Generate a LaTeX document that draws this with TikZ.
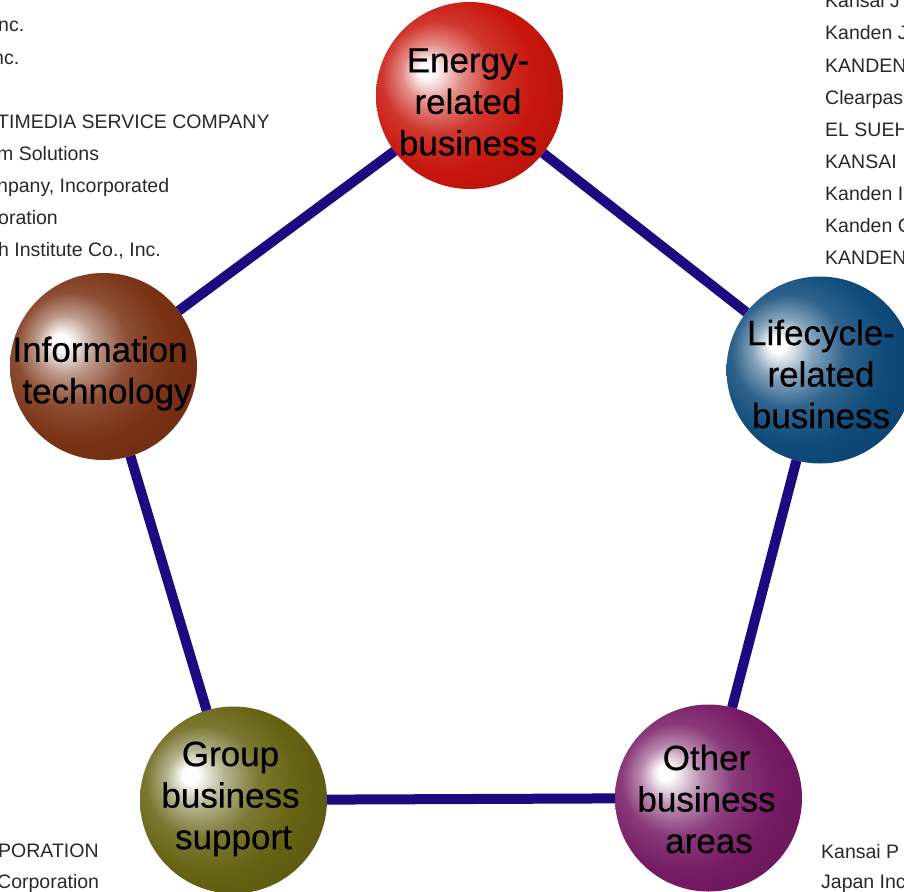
\documentclass[tikz,border=0pt]{standalone}
\usepackage{fontspec}
\setmainfont{Liberation Sans}
\newfontfamily\lblfont[FakeBold=0.5]{Liberation Sans}
\definecolor{cRed}{RGB}{200,22,12}
\definecolor{cBlue}{RGB}{14,74,122}
\definecolor{cBrown}{RGB}{122,50,20}
\definecolor{cOlive}{RGB}{102,98,18}
\definecolor{cPurple}{RGB}{118,26,100}
\definecolor{linkc}{RGB}{27,10,128}
\definecolor{smalltxt}{RGB}{40,40,40}
\newcommand\declball[2]{%
  \pgfdeclareradialshading{#1}{\pgfqpoint{-12bp}{7bp}}{%
    color(0bp)=(white); color(2bp)=(white); color(8bp)=(#2!50!white);
    color(15bp)=(#2!86!white); color(24bp)=(#2); color(50bp)=(#2!70!black)}}
\declball{shRed}{cRed}
\declball{shBlue}{cBlue}
\declball{shBrown}{cBrown}
\declball{shOlive}{cOlive}
\declball{shPurple}{cPurple}
\begin{document}
\begin{tikzpicture}[x=1pt,y=-1pt,
  ballnode/.style={circle, minimum size=187pt, inner sep=0pt, outer sep=0pt},
  lbl/.style={font=\lblfont\fontsize{35}{41.5}\selectfont, align=center, text=black, inner sep=0pt},
  side/.style={font=\fontsize{19.5}{22}\selectfont, text=smalltxt, inner sep=0pt, anchor=base west},
  link/.style={draw=linkc, line width=10pt}]
\useasboundingbox (0,0) rectangle (904,891);
\clip (0,0) rectangle (904,891);
% side texts, left
\node[side] (l1) at (-2,32) {nc.};
\node[side] (l2) at (-7,64) {nc.};
\node[side] (l3) at (-3,128) {TIMEDIA SERVICE COMPANY};
\node[side] (l4) at (-3,160) {m Solutions};
\node[side] (l5) at (-3,192) {npany, Incorporated};
\node[side] (l6) at (-2,224) {oration};
\node[side] (l7) at (-2,256) {h Institute Co., Inc.};
\node[side] (l8) at (-2,857) {PORATION};
\node[side] (l9) at (-3,888) {Corporation};
% side texts, right
\node[side] (r0) at (825,8) {Kansai J};
\node[side] (r1) at (825,40) {Kanden J};
\node[side] (r2) at (825,72) {KANDEN};
\node[side] (r3) at (825,104) {Clearpas};
\node[side] (r4) at (825,136) {EL SUEH};
\node[side] (r5) at (825,168) {KANSAI};
\node[side] (r6) at (825,200) {Kanden I};
\node[side] (r7) at (825,232) {Kanden C};
\node[side] (r8) at (825,264) {KANDEN};
\node[side] (r9) at (821,858) {Kansai P};
\node[side] (r10) at (821,888) {Japan Inc};
% balls
\node[ballnode, shading=shRed] (energy) at (469.5,95.5) {};
\node[ballnode, shading=shBlue] (life) at (820,370) {};
\node[ballnode, shading=shBrown] (info) at (103.5,366.5) {};
\node[ballnode, shading=shOlive] (group) at (233.5,800) {};
\node[ballnode, shading=shPurple] (other) at (708.5,798) {};
% connectors
\draw[link] (energy) -- (life);
\draw[link] (life) -- (other);
\draw[link] (other) -- (group);
\draw[link] (group) -- (info);
\draw[link] (info) -- (energy);
% labels
\node[lbl] (tenergy) at (468,102) {Energy-\\related\\business};
\node[lbl] (tlife) at (821,374) {Lifecycle-\\related\\business};
\node[lbl] (tinfo) at (100,373.5) {Information\\\hspace*{14pt}technology};
\node[lbl] (tgroup) at (230.5,799) {Group\\business\\\hspace*{6pt}support};
\node[lbl] (tother) at (706.5,799) {Other\\business\\\hspace*{5pt}areas};
\end{tikzpicture}
\end{document}
